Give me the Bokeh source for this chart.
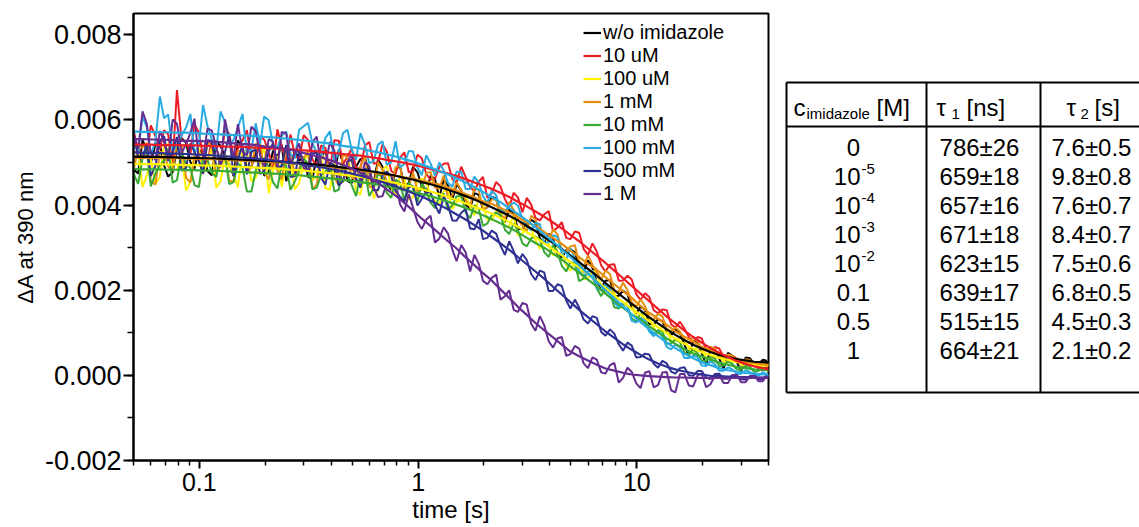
from bokeh.plotting import figure
from bokeh.models import (Range1d, FixedTicker, SingleIntervalTicker, NumeralTickFormatter,
                          CustomJSTickFormatter, Legend, LegendItem, ColumnDataSource)
from bokeh.layouts import row
from bokeh.embed import file_html
from bokeh.resources import INLINE
from bokeh.core.properties import value

FONT = "Liberation Sans"

# ---------------- data (absorbance values in units of 1e-3) ----------------
# sampling times of the measured traces (two interleaved sets of samples)
t_s = [0.050, 0.055, 0.060, 0.066, 0.072, 0.079, 0.087, 0.095, 0.104, 0.114,
       0.125, 0.137, 0.150, 0.165, 0.181, 0.198, 0.217, 0.238, 0.261, 0.286,
       0.314, 0.344, 0.377, 0.414, 0.454, 0.497, 0.545, 0.598, 0.656, 0.719,
       0.789, 0.865, 0.948, 1.04, 1.14, 1.25, 1.37, 1.50, 1.65, 1.81,
       1.98, 2.17, 2.38, 2.61, 2.86, 3.14, 3.44, 3.77, 4.14, 4.54,
       4.97, 5.45, 5.98, 6.56, 7.19, 7.89, 8.65, 9.48, 10.4, 11.4,
       12.5, 13.7, 15.0, 16.5, 18.1, 19.8, 21.7, 23.8, 26.1, 28.6,
       31.4, 34.4, 37.7, 40.0]
t_m = [0.0525, 0.0575, 0.063, 0.069, 0.0755, 0.083, 0.091, 0.0995, 0.109, 0.1195,
       0.131, 0.1435, 0.1575, 0.173, 0.1895, 0.2075, 0.2275, 0.2495, 0.2735, 0.300,
       0.329, 0.3605, 0.3955, 0.434, 0.4755, 0.521, 0.5715, 0.627, 0.6875, 0.754,
       0.827, 0.9065, 0.994, 1.09, 1.195, 1.31, 1.435, 1.575, 1.73, 1.895,
       2.075, 2.275, 2.495, 2.735, 3.00, 3.29, 3.605, 3.955, 4.34, 4.755,
       5.21, 5.715, 6.27, 6.875, 7.54, 8.27, 9.065, 9.94, 10.9, 11.95,
       13.1, 14.35, 15.75, 17.3, 18.95, 20.75, 22.75, 24.95, 27.35, 30.0,
       32.9, 36.05, 38.85]

labels = ["w/o imidazole", "10 uM", "100 uM", "1 mM", "10 mM", "100 mM", "500 mM", "1 M"]
colors = ["#000000", "#ed1c24", "#fff200", "#e58e10", "#39a935", "#29abe2", "#2e3192", "#662d91"]

raw_black = [4.84, 5.53, 4.98, 5.43, 4.67, 5.32, 5.46, 4.86, 5.20, 4.70,
             5.39, 4.98, 5.52, 4.86, 5.20, 4.69, 5.28, 5.42, 4.85, 5.04,
             4.67, 5.15, 5.28, 4.71, 4.98, 4.51, 5.08, 4.75, 5.07, 4.48,
             4.84, 4.44, 4.90, 4.44, 4.69, 4.18, 4.46, 4.49, 4.01, 4.28,
             3.89, 4.20, 3.75, 3.90, 3.44, 3.56, 3.59, 3.10, 3.21, 2.77,
             2.96, 2.56, 2.70, 2.19, 2.22, 1.85, 1.99, 1.58, 1.62, 1.21,
             1.32, 1.03, 1.07, 0.73, 0.80, 0.53, 0.61, 0.40, 0.53, 0.32,
             0.42, 0.27, 0.37, 0.26]
mid_black = [4.74, 5.28, 5.43, 4.93, 4.77, 5.57, 5.01, 5.31, 4.80, 5.50,
             5.14, 4.68, 5.32, 4.91, 5.40, 4.79, 5.13, 4.56, 5.30, 5.13,
             4.61, 5.14, 4.77, 5.30, 4.57, 4.90, 5.12, 4.54, 4.90, 4.36,
             4.92, 4.52, 4.77, 4.27, 4.61, 4.60, 4.13, 4.35, 3.92, 4.24,
             3.95, 4.15, 3.60, 3.80, 3.43, 3.65, 3.22, 3.33, 2.84, 2.94,
             2.89, 2.43, 2.52, 2.06, 2.24, 1.87, 1.91, 1.45, 1.54, 1.19,
             1.27, 0.94, 0.99, 0.45, 0.76, 0.25, 0.62, 0.15, 0.46, 0.10,
             0.40, 0.27, 0.35]
raw_10uM = [5.77, 5.22, 5.87, 5.31, 5.66, 6.70, 5.50, 5.90, 5.14, 5.54,
            5.03, 5.67, 5.32, 5.76, 5.05, 5.54, 4.88, 5.37, 5.66, 5.09,
            5.53, 4.91, 5.34, 5.52, 4.95, 5.33, 4.86, 5.48, 5.00, 5.26,
            4.73, 5.24, 4.80, 5.10, 4.60, 4.89, 4.98, 4.53, 4.66, 4.33,
            4.66, 4.28, 4.44, 3.94, 4.18, 4.17, 3.70, 3.78, 3.39, 3.60,
            3.20, 3.35, 2.83, 2.91, 2.44, 2.61, 2.23, 2.25, 1.77, 1.84,
            1.46, 1.53, 1.12, 1.10, 0.78, 0.87, 0.56, 0.63, 0.33, 0.40,
            0.19, 0.29, 0.11, 0.19]
mid_10uM = [5.27, 5.12, 5.62, 5.76, 4.96, 5.51, 5.20, 5.70, 4.99, 5.34,
            5.78, 5.12, 5.52, 5.01, 5.60, 5.24, 5.78, 5.02, 5.15, 5.64,
            5.07, 5.40, 4.83, 5.51, 5.14, 4.87, 5.40, 4.97, 5.43, 4.80,
            5.11, 4.77, 5.18, 4.73, 4.62, 4.97, 4.61, 4.90, 4.42, 4.55,
            4.17, 4.54, 4.14, 4.29, 3.83, 4.01, 3.64, 3.86, 3.47, 3.23,
            3.38, 2.97, 3.10, 2.58, 2.60, 2.22, 2.34, 1.91, 1.93, 1.53,
            1.55, 1.20, 1.26, 0.90, 0.90, 0.61, 0.67, 0.43, 0.46, 0.25,
            0.29, 0.15, 0.19]
raw_100uM = [5.21, 4.42, 5.08, 4.66, 5.43, 4.83, 4.34, 5.24, 4.75, 5.35,
             4.56, 4.97, 4.42, 5.25, 4.64, 5.41, 4.80, 4.43, 5.07, 4.52,
             5.22, 4.66, 4.40, 5.04, 4.53, 5.05, 4.24, 4.75, 4.36, 4.92,
             4.22, 4.65, 4.19, 4.62, 4.22, 4.01, 4.34, 4.07, 4.24, 3.76,
             3.99, 3.65, 3.95, 3.50, 3.29, 3.51, 3.19, 3.30, 2.81, 2.92,
             2.46, 2.69, 2.28, 2.42, 1.90, 1.93, 1.57, 1.71, 1.33, 1.37,
             0.98, 1.09, 0.81, 0.86, 0.53, 0.62, 0.38, 0.51, 0.30, 0.39,
             0.20, 0.31, 0.19, 0.27]
mid_100uM = [5.27, 4.70, 4.50, 5.41, 4.82, 5.15, 4.55, 5.34, 4.98, 4.41,
             5.17, 4.71, 5.25, 4.56, 4.98, 4.28, 5.16, 4.99, 4.37, 5.01,
             4.59, 5.17, 4.36, 4.78, 5.00, 4.35, 4.80, 4.16, 4.83, 4.41,
             4.70, 4.12, 4.55, 4.55, 4.09, 4.33, 3.91, 4.23, 3.95, 4.17,
             3.65, 3.85, 3.50, 3.75, 3.33, 3.45, 2.97, 3.08, 3.04, 2.59,
             2.69, 2.26, 2.45, 2.09, 2.12, 1.65, 1.74, 1.38, 1.47, 1.12,
             1.16, 0.81, 0.88, 0.63, 0.69, 0.42, 0.50, 0.32, 0.40, 0.25,
             0.31, 0.21, 0.27]
raw_1mM = [4.82, 5.36, 4.56, 5.26, 4.90, 5.45, 4.64, 5.14, 4.73, 5.38,
           4.92, 4.56, 5.25, 4.74, 5.43, 4.77, 5.11, 4.60, 5.23, 4.87,
           5.25, 4.48, 5.06, 4.64, 5.21, 4.64, 4.91, 4.43, 5.00, 4.56,
           4.89, 4.35, 4.77, 4.37, 4.78, 4.38, 4.16, 4.54, 4.11, 4.43,
           3.89, 4.13, 3.78, 4.08, 3.67, 3.39, 3.66, 3.27, 3.43, 2.94,
           3.03, 2.63, 2.82, 2.43, 2.46, 1.99, 2.18, 1.72, 1.78, 1.37,
           1.45, 1.09, 1.13, 0.83, 0.90, 0.61, 0.67, 0.44, 0.49, 0.33,
           0.38, 0.24, 0.31, 0.21]
mid_1mM = [5.32, 5.46, 4.48, 5.21, 4.82, 5.40, 4.53, 5.02, 5.48, 4.73,
           5.22, 4.57, 5.30, 4.90, 5.48, 4.60, 4.80, 5.34, 4.70, 5.11,
           4.38, 5.22, 4.83, 4.46, 5.10, 4.62, 5.15, 4.42, 4.83, 4.42,
           4.92, 4.43, 4.32, 4.75, 4.41, 4.70, 4.23, 4.35, 3.97, 4.34,
           3.96, 4.13, 3.68, 3.88, 3.51, 3.75, 3.39, 3.15, 3.31, 2.91,
           3.06, 2.55, 2.60, 2.25, 2.38, 1.96, 2.00, 1.61, 1.63, 1.30,
           1.38, 1.03, 1.03, 0.76, 0.82, 0.58, 0.63, 0.42, 0.46, 0.31,
           0.36, 0.24, 0.29]
raw_10mM = [4.75, 5.09, 4.44, 4.94, 5.33, 4.58, 4.97, 4.47, 5.11, 4.76,
            5.20, 4.49, 4.98, 4.32, 4.81, 5.10, 4.54, 4.98, 4.36, 4.80,
            4.98, 4.41, 4.79, 4.32, 4.94, 4.47, 4.74, 4.21, 4.73, 4.29,
            4.60, 4.10, 4.41, 4.51, 4.06, 4.20, 3.88, 4.21, 3.83, 4.00,
            3.51, 3.77, 3.77, 3.32, 3.41, 3.03, 3.26, 2.90, 3.06, 2.57,
            2.66, 2.21, 2.40, 2.04, 2.07, 1.60, 1.69, 1.33, 1.46, 1.05,
            1.06, 0.75, 0.84, 0.54, 0.61, 0.35, 0.43, 0.22, 0.33, 0.14,
            0.22, 0.08, 0.18, 0.08]
mid_10mM = [4.50, 5.29, 4.74, 5.04, 4.53, 5.23, 4.87, 4.42, 5.06, 4.66,
            5.15, 4.54, 4.88, 4.32, 5.06, 4.90, 4.39, 4.92, 4.56, 5.09,
            4.37, 4.70, 4.93, 4.36, 4.73, 4.21, 4.78, 4.40, 4.66, 4.17,
            4.53, 4.53, 4.08, 4.34, 3.93, 4.27, 4.00, 4.22, 3.69, 3.91,
            3.57, 3.82, 3.42, 3.57, 3.10, 3.22, 3.19, 2.78, 2.89, 2.44,
            2.64, 2.28, 2.32, 1.86, 1.94, 1.57, 1.63, 1.27, 1.33, 0.96,
            1.02, 0.75, 0.78, 0.49, 0.52, 0.34, 0.40, 0.23, 0.27, 0.14,
            0.20, 0.11, 0.16]
raw_100mM = [5.55, 6.08, 5.18, 6.55, 6.13, 5.40, 5.82, 5.21, 6.35, 5.55,
             6.20, 5.41, 5.82, 5.21, 5.92, 6.08, 5.41, 5.63, 5.19, 5.77,
             5.93, 5.24, 5.58, 5.01, 5.69, 5.30, 5.69, 4.98, 5.42, 4.95,
             5.50, 4.96, 5.26, 4.70, 4.98, 5.00, 4.52, 4.78, 4.38, 4.67,
             4.21, 4.34, 3.87, 3.98, 3.99, 3.49, 3.58, 3.11, 3.29, 2.86,
             2.98, 2.44, 2.44, 2.05, 2.15, 1.71, 1.72, 1.28, 1.35, 1.03,
             1.04, 0.67, 0.72, 0.41, 0.46, 0.23, 0.34, 0.11, 0.19, 0.04,
             0.12, 0.00, 0.07, -0.02]
mid_100mM = [5.23, 5.83, 5.50, 6.04, 5.27, 5.64, 6.14, 5.41, 5.85, 5.28,
             5.94, 5.54, 6.14, 5.30, 5.44, 5.99, 5.36, 5.73, 5.10, 5.85,
             5.44, 5.14, 5.73, 5.24, 5.77, 5.07, 5.42, 5.04, 5.50, 5.00,
             4.89, 5.27, 4.88, 5.17, 4.69, 4.81, 4.43, 4.78, 4.38, 4.52,
             4.05, 4.23, 3.85, 4.06, 3.67, 3.41, 3.55, 3.13, 3.25, 2.72,
             2.74, 2.34, 2.45, 2.00, 2.01, 1.60, 1.61, 1.24, 1.29, 0.92,
             0.91, 0.61, 0.66, 0.41, 0.43, 0.22, 0.26, 0.11, 0.14, 0.04,
             0.08, 0.00, 0.04]
raw_500mM = [5.68, 5.12, 4.68, 5.50, 5.04, 5.60, 4.87, 5.25, 4.74, 5.50,
             4.93, 5.64, 5.06, 4.72, 5.31, 4.79, 5.44, 4.91, 4.66, 5.25,
             4.76, 5.23, 4.48, 4.94, 4.57, 5.07, 4.41, 4.80, 4.35, 4.79,
             4.33, 4.08, 4.45, 4.15, 4.30, 3.80, 4.00, 3.63, 3.91, 3.43,
             3.20, 3.40, 3.05, 3.15, 2.63, 2.71, 2.24, 2.42, 1.98, 2.10,
             1.57, 1.59, 1.22, 1.35, 0.93, 0.98, 0.58, 0.70, 0.43, 0.49,
             0.18, 0.28, 0.04, 0.19, -0.01, 0.10, -0.09, 0.04, -0.08, 0.00,
             -0.10, 0.00, -0.09, -0.02]
mid_500mM = [5.14, 5.43, 4.93, 5.62, 5.26, 4.81, 5.45, 5.04, 5.53, 4.91,
             5.25, 4.68, 5.42, 5.25, 4.73, 5.26, 4.89, 5.41, 4.68, 5.00,
             5.22, 4.64, 5.00, 4.46, 5.02, 4.62, 4.86, 4.35, 4.69, 4.68,
             4.20, 4.42, 3.99, 4.30, 4.00, 4.20, 3.64, 3.82, 3.45, 3.67,
             3.23, 3.33, 2.83, 2.92, 2.85, 2.38, 2.46, 1.98, 2.14, 1.76,
             1.78, 1.31, 1.39, 1.02, 1.08, 0.73, 0.77, 0.42, 0.51, 0.27,
             0.34, 0.09, 0.17, 0.00, 0.10, -0.05, 0.03, -0.08, 0.01, -0.09,
             -0.02, -0.09, -0.02]
raw_1M = [5.68, 6.20, 5.21, 5.74, 5.07, 5.91, 5.44, 6.03, 5.11, 5.75,
          4.89, 5.53, 5.90, 5.17, 5.74, 4.92, 5.49, 5.72, 4.97, 5.45,
          4.81, 5.61, 4.96, 5.28, 4.55, 5.19, 4.56, 4.91, 4.19, 4.50,
          4.55, 3.85, 3.94, 3.44, 3.75, 3.21, 3.33, 2.68, 2.89, 2.83,
          2.22, 2.29, 1.78, 2.00, 1.49, 1.66, 1.05, 1.18, 0.65, 0.90,
          0.50, 0.63, 0.17, 0.37, 0.04, 0.29, -0.06, 0.08, -0.30, 0.10,
          -0.23, 0.08, -0.40, 0.03, -0.26, 0.04, -0.21, 0.00, -0.18, 0.02,
          -0.16, 0.00, -0.14, -0.02]
mid_1M = [5.31, 5.91, 5.06, 5.48, 6.01, 5.22, 5.69, 5.09, 5.80, 5.37,
          6.01, 5.09, 5.26, 5.84, 5.16, 5.55, 4.87, 5.68, 5.22, 4.87,
          5.48, 4.94, 5.48, 4.68, 5.02, 4.57, 5.01, 4.41, 4.21, 4.54,
          4.02, 4.26, 3.60, 3.66, 3.12, 3.48, 2.95, 3.06, 2.44, 2.62,
          2.14, 2.37, 1.86, 1.54, 1.70, 1.21, 1.39, 0.80, 0.87, 0.46,
          0.69, 0.28, 0.42, 0.07, 0.24, -0.17, 0.18, -0.19, 0.06, -0.28,
          0.07, -0.35, 0.03, -0.24, 0.00, -0.28, -0.01, -0.18, 0.00, -0.16,
          -0.02, -0.14, -0.03]

fit_black = [5.14, 5.13, 5.13, 5.13, 5.12, 5.12, 5.11, 5.11, 5.10, 5.10,
             5.09, 5.08, 5.07, 5.06, 5.05, 5.04, 5.03, 5.02, 5.00, 4.99,
             4.97, 4.95, 4.93, 4.91, 4.88, 4.86, 4.83, 4.80, 4.77, 4.73,
             4.69, 4.64, 4.60, 4.54, 4.49, 4.43, 4.36, 4.29, 4.21, 4.13,
             4.04, 3.95, 3.85, 3.75, 3.64, 3.51, 3.39, 3.25, 3.11, 2.97,
             2.81, 2.66, 2.50, 2.34, 2.17, 2.00, 1.84, 1.68, 1.52, 1.36,
             1.22, 1.08, 0.95, 0.83, 0.72, 0.63, 0.55, 0.48, 0.43, 0.38,
             0.35, 0.32, 0.31, 0.30]
fit_10uM = [5.42, 5.42, 5.42, 5.41, 5.41, 5.41, 5.40, 5.40, 5.39, 5.39,
            5.38, 5.37, 5.37, 5.36, 5.35, 5.34, 5.33, 5.32, 5.31, 5.29,
            5.28, 5.26, 5.24, 5.22, 5.20, 5.18, 5.16, 5.13, 5.10, 5.06,
            5.03, 4.99, 4.95, 4.90, 4.85, 4.79, 4.74, 4.68, 4.61, 4.53,
            4.46, 4.38, 4.29, 4.19, 4.08, 3.97, 3.85, 3.73, 3.59, 3.45,
            3.30, 3.15, 2.98, 2.81, 2.64, 2.46, 2.28, 2.10, 1.92, 1.74,
            1.56, 1.38, 1.22, 1.05, 0.90, 0.77, 0.64, 0.53, 0.43, 0.34,
            0.27, 0.21, 0.17, 0.14]
fit_100uM = [4.97, 4.96, 4.96, 4.96, 4.95, 4.95, 4.94, 4.94, 4.93, 4.93,
             4.92, 4.91, 4.90, 4.89, 4.88, 4.87, 4.86, 4.85, 4.83, 4.82,
             4.80, 4.78, 4.76, 4.74, 4.71, 4.69, 4.66, 4.63, 4.60, 4.56,
             4.52, 4.47, 4.43, 4.37, 4.32, 4.26, 4.19, 4.12, 4.04, 3.96,
             3.89, 3.80, 3.70, 3.60, 3.49, 3.36, 3.24, 3.10, 2.96, 2.82,
             2.66, 2.54, 2.38, 2.22, 2.05, 1.88, 1.72, 1.56, 1.43, 1.27,
             1.13, 0.99, 0.86, 0.74, 0.63, 0.54, 0.48, 0.41, 0.36, 0.31,
             0.28, 0.25, 0.24, 0.23]
fit_1mM = [5.12, 5.11, 5.11, 5.11, 5.10, 5.10, 5.09, 5.09, 5.08, 5.08,
           5.07, 5.06, 5.05, 5.04, 5.03, 5.02, 5.01, 5.00, 4.98, 4.97,
           4.95, 4.93, 4.91, 4.89, 4.86, 4.84, 4.81, 4.78, 4.75, 4.71,
           4.69, 4.65, 4.62, 4.57, 4.53, 4.48, 4.41, 4.34, 4.26, 4.18,
           4.09, 4.03, 3.93, 3.83, 3.72, 3.59, 3.51, 3.37, 3.23, 3.09,
           2.93, 2.78, 2.62, 2.48, 2.31, 2.14, 1.98, 1.82, 1.63, 1.47,
           1.33, 1.19, 1.03, 0.91, 0.80, 0.67, 0.59, 0.52, 0.43, 0.38,
           0.32, 0.29, 0.26, 0.25]
fit_10mM = [4.85, 4.84, 4.84, 4.84, 4.83, 4.83, 4.82, 4.82, 4.81, 4.81,
            4.80, 4.79, 4.78, 4.77, 4.76, 4.75, 4.74, 4.73, 4.71, 4.70,
            4.68, 4.66, 4.64, 4.62, 4.59, 4.57, 4.54, 4.51, 4.48, 4.44,
            4.40, 4.35, 4.31, 4.26, 4.21, 4.15, 4.08, 4.01, 3.93, 3.85,
            3.76, 3.67, 3.57, 3.47, 3.36, 3.23, 3.11, 3.00, 2.86, 2.72,
            2.56, 2.41, 2.25, 2.09, 1.92, 1.75, 1.59, 1.43, 1.31, 1.15,
            1.01, 0.87, 0.74, 0.62, 0.51, 0.45, 0.37, 0.30, 0.25, 0.20,
            0.17, 0.14, 0.13, 0.12]
fit_100mM = [5.73, 5.72, 5.72, 5.71, 5.71, 5.70, 5.70, 5.69, 5.68, 5.67,
             5.66, 5.65, 5.64, 5.63, 5.62, 5.60, 5.59, 5.57, 5.55, 5.53,
             5.51, 5.48, 5.46, 5.43, 5.39, 5.36, 5.33, 5.28, 5.24, 5.19,
             5.14, 5.08, 5.02, 4.95, 4.88, 4.80, 4.72, 4.63, 4.53, 4.42,
             4.31, 4.19, 4.07, 3.93, 3.79, 3.64, 3.48, 3.31, 3.14, 2.96,
             2.78, 2.59, 2.39, 2.20, 2.00, 1.81, 1.62, 1.43, 1.25, 1.08,
             0.92, 0.77, 0.64, 0.51, 0.40, 0.31, 0.24, 0.17, 0.12, 0.09,
             0.06, 0.04, 0.02, 0.02]
fit_500mM = [5.24, 5.23, 5.23, 5.22, 5.21, 5.21, 5.20, 5.19, 5.18, 5.17,
             5.15, 5.14, 5.12, 5.11, 5.09, 5.07, 5.05, 5.02, 4.99, 4.97,
             4.93, 4.90, 4.87, 4.83, 4.79, 4.74, 4.69, 4.63, 4.57, 4.51,
             4.44, 4.36, 4.28, 4.20, 4.10, 4.00, 3.90, 3.78, 3.66, 3.53,
             3.40, 3.25, 3.10, 2.95, 2.78, 2.61, 2.44, 2.27, 2.08, 1.90,
             1.72, 1.54, 1.37, 1.20, 1.03, 0.88, 0.73, 0.60, 0.48, 0.37,
             0.28, 0.20, 0.14, 0.09, 0.05, 0.02, -0.01, -0.02, -0.03, -0.04,
             -0.04, -0.05, -0.05, -0.05]
fit_1M = [5.55, 5.55, 5.54, 5.54, 5.53, 5.52, 5.51, 5.51, 5.50, 5.49,
          5.48, 5.46, 5.44, 5.43, 5.41, 5.38, 5.36, 5.33, 5.30, 5.25,
          5.20, 5.15, 5.09, 5.02, 4.94, 4.86, 4.76, 4.65, 4.52, 4.37,
          4.22, 4.05, 3.87, 3.68, 3.51, 3.33, 3.15, 2.98, 2.77, 2.59,
          2.40, 2.23, 2.02, 1.82, 1.61, 1.42, 1.23, 1.06, 0.89, 0.72,
          0.56, 0.45, 0.35, 0.25, 0.16, 0.11, 0.06, 0.02, 0.00, -0.02,
          -0.03, -0.04, -0.05, -0.05, -0.06, -0.06, -0.06, -0.06, -0.06, -0.06,
          -0.06, -0.06, -0.06, -0.06]

raw_series = [raw_black, raw_10uM, raw_100uM, raw_1mM, raw_10mM, raw_100mM, raw_500mM, raw_1M]
mid_series = [mid_black, mid_10uM, mid_100uM, mid_1mM, mid_10mM, mid_100mM, mid_500mM, mid_1M]
fit_series = [fit_black, fit_10uM, fit_100uM, fit_1mM, fit_10mM, fit_100mM, fit_500mM, fit_1M]

# table values
conc_base = ["0", "10", "10", "10", "10", "0.1", "0.5", "1"]
conc_exp = ["", "-5", "-4", "-3", "-2", "", "", ""]
tau1 = ["786±26", "659±18", "657±16", "671±18", "623±15", "639±17", "515±15", "664±21"]
tau2 = ["7.6±0.5", "9.8±0.8", "7.6±0.7", "8.4±0.7", "7.5±0.6", "6.8±0.5", "4.5±0.3", "2.1±0.2"]

SCALE = 1e-3


def interleave(a, b):
    out = []
    for i in range(len(a)):
        out.append(a[i])
        if i < len(b):
            out.append(b[i])
    return out


t_all = interleave(t_s, t_m)

# ---------------- main plot ----------------
p = figure(width=780, height=527, x_axis_type="log",
           x_range=Range1d(0.05, 40), y_range=Range1d(-0.002, 0.0085),
           output_backend="svg", toolbar_location=None,
           min_border_left=133, min_border_right=12, min_border_top=13, min_border_bottom=67)
p.grid.visible = False
p.background_fill_color = "white"
p.border_fill_color = "white"
p.outline_line_color = "black"
p.outline_line_width = 2
p.outline_line_alpha = 1.0

for raw, mid, col in zip(raw_series, mid_series, colors):
    p.line(t_all, [v * SCALE for v in interleave(raw, mid)], line_color=col, line_width=2.0)

fit_r = {}
order = [2, 4, 3, 0, 1, 5, 6, 7]
for k in order:
    fit_r[k] = p.line(t_s, [v * SCALE for v in fit_series[k]], line_color=colors[k], line_width=2.2)

legend = Legend(items=[LegendItem(label=labels[k], renderers=[fit_r[k]]) for k in range(8)],
                location=(450, 255))
legend.border_line_alpha = 0
legend.background_fill_alpha = 0
legend.padding = 0
legend.margin = 0
legend.spacing = 0
legend.glyph_width = 18
legend.glyph_height = 23
legend.label_height = 23
legend.label_standoff = 2
legend.label_text_font = FONT
legend.label_text_font_size = "20px"
legend.label_text_color = "black"
p.add_layout(legend)

# axes
p.yaxis.ticker = SingleIntervalTicker(interval=0.002, num_minor_ticks=2)
p.yaxis.formatter = NumeralTickFormatter(format="0.000")
minor_x = [0.05, 0.06, 0.07, 0.08, 0.09, 0.2, 0.3, 0.4, 0.5, 0.6, 0.7, 0.8, 0.9,
           2, 3, 4, 5, 6, 7, 8, 9, 20, 30, 40]
p.xaxis.ticker = FixedTicker(ticks=[0.1, 1, 10], minor_ticks=minor_x)
p.xaxis.formatter = CustomJSTickFormatter(code="return tick >= 1 ? tick.toFixed(0) : tick.toFixed(1);")

for ax in (p.xaxis[0], p.yaxis[0]):
    ax.axis_line_width = 2
    ax.axis_line_color = "black"
    ax.major_tick_line_width = 2
    ax.minor_tick_line_width = 1.5
    ax.major_tick_line_color = "black"
    ax.minor_tick_line_color = "black"
    ax.major_tick_in = 0
    ax.minor_tick_in = 0
    ax.major_label_text_font = FONT
    ax.major_label_text_color = "black"
    ax.axis_label_text_font = FONT
    ax.axis_label_text_font_style = "normal"
    ax.axis_label_text_color = "black"

p.yaxis.major_label_text_font_size = "27px"
p.yaxis.major_tick_out = 10
p.yaxis.minor_tick_out = 6
p.yaxis.major_label_standoff = 2
p.yaxis.axis_label = "ΔA at 390 nm"
p.yaxis.axis_label_text_font_size = "22px"
p.yaxis.axis_label_standoff = 4

p.xaxis.major_label_text_font_size = "25px"
p.xaxis.major_tick_out = 8
p.xaxis.minor_tick_out = 5
p.xaxis.major_label_standoff = 4
p.xaxis.axis_label = "time [s]"
p.xaxis.axis_label_text_font_size = "24px"
p.xaxis.axis_label_standoff = 2

# ---------------- table ----------------
# the row layout aligns the frames, so the table frame spans y = 13 .. 460 on the page
tb = figure(width=359, height=527, x_range=Range1d(780, 1139), y_range=Range1d(460, 13),
            output_backend="svg", toolbar_location=None, min_border=0,
            x_axis_location=None, y_axis_location=None)
tb.grid.visible = False
tb.outline_line_color = None
tb.background_fill_color = "white"
tb.border_fill_color = "white"

top_y, head_y, bot_y = 82, 126, 392
left_x, c1_x, c2_x, right_x = 786, 926, 1040, 1145
tb.segment(x0=[left_x, left_x, left_x, left_x, c1_x, c2_x],
           y0=[top_y, head_y, bot_y, top_y, top_y, top_y],
           x1=[right_x, right_x, right_x, left_x, c1_x, c2_x],
           y1=[top_y, head_y, bot_y, bot_y, bot_y, bot_y],
           line_color="black", line_width=2)

row_y = [147 + 29 * i for i in range(8)]
fnt = value(FONT)
# column 1
base_src = ColumnDataSource(dict(x=[860 if e else 853 for e in conc_exp], y=row_y, text=conc_base,
                                 align=["right" if e else "center" for e in conc_exp]))
tb.text(x="x", y="y", text="text", text_align="align", text_baseline="middle",
        text_font=fnt, text_font_size="24px", text_color="black", source=base_src)
exp_idx = [i for i, e in enumerate(conc_exp) if e]
tb.text(x=[861] * len(exp_idx), y=[row_y[i] - 8 for i in exp_idx], text=[conc_exp[i] for i in exp_idx],
        text_align="left", text_baseline="middle", text_font=fnt, text_font_size="15px", text_color="black")
# columns 2, 3
tb.text(x=[979] * 8, y=row_y, text=tau1, text_align="center", text_baseline="middle",
        text_font=fnt, text_font_size="24px", text_color="black")
tb.text(x=[1091] * 8, y=row_y, text=tau2, text_align="center", text_baseline="middle",
        text_font=fnt, text_font_size="24px", text_color="black")

# header
hb = 107
tb.text(x=[793, 876, 936, 966, 1066, 1094], y=[hb] * 6,
        text=["c", "[M]", "τ", "[ns]", "τ", "[s]"], text_align="left", text_baseline="alphabetic",
        text_font=fnt, text_font_size="24px", text_color="black")
tb.text(x=[806, 951, 1080], y=[hb + 6] * 3, text=["imidazole", "1", "2"],
        text_align="left", text_baseline="alphabetic",
        text_font=fnt, text_font_size="15px", text_color="black")

layout = row(p, tb)
open("out.html", "w").write(file_html(layout, INLINE))
